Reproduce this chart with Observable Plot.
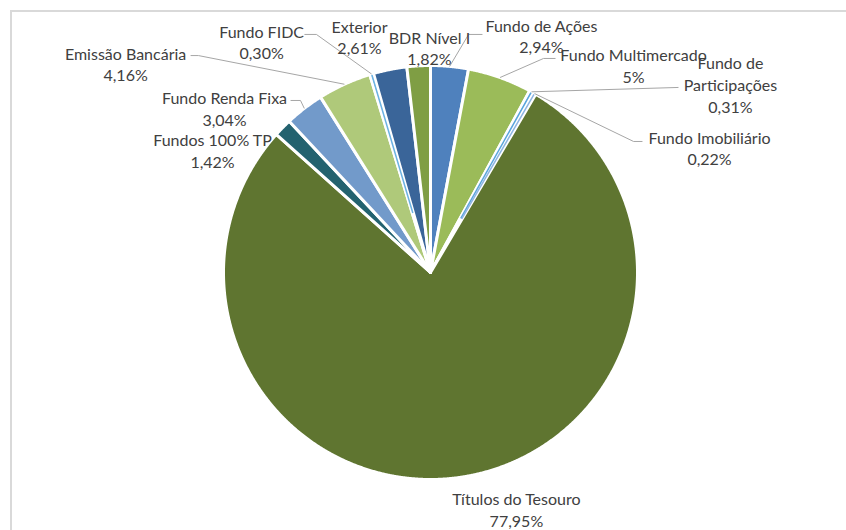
<!DOCTYPE html>
<html><head><meta charset="utf-8">
<script src="https://cdn.jsdelivr.net/npm/d3@7"></script>
<script src="https://cdn.jsdelivr.net/npm/@observablehq/plot@0.6"></script>
<style>
body{margin:0;background:#fff;}
#wrap{position:relative;width:846px;height:530px;overflow:hidden;background:#fff;}
#frame{position:absolute;left:10px;top:10px;width:900px;height:600px;border-left:2px solid #d9d9d9;border-top:2px solid #d9d9d9;}
#chart{position:absolute;left:0;top:0;}
</style></head><body>
<div id="wrap"><div id="frame"></div><div id="chart"></div></div>
<script>
// ---- data ----
const categories = ["Fundo de Ações", "Fundo Multimercado", "Fundo de Participações", "Fundo Imobiliário",
  "Títulos do Tesouro", "Fundos 100% TP", "Fundo Renda Fixa", "Emissão Bancária", "Fundo FIDC", "Exterior", "BDR Nível I"];
const values = [2.94, 5, 0.31, 0.22, 77.95, 1.42, 3.04, 4.16, 0.30, 2.61, 1.82];
const valueLabels = ["2,94%", "5%", "0,31%", "0,22%", "77,95%", "1,42%", "3,04%", "4,16%", "0,30%", "2,61%", "1,82%"];

// ---- styles ----
const colors = ["#4f81bd", "#9bbb59", "#5aa5dc", "#8db4e2", "#5f7530", "#23626f", "#729aca", "#afc97a", "#6cb2e2", "#3a6599", "#7f9e44"];

// ---- label layout (pie-radius units, centre = 0,0) ----
const labelPos = [
  [0.536, 1.145], [0.981, 1.002], [1.449, 0.911], [1.348, 0.604], [0.415, -1.143],
  [-1.053, 0.592], [-0.995, 0.794], [-1.473, 1.010], [-0.816, 1.116], [-0.343, 1.140], [-0.005, 1.087]
];
const leaderBends = [
  [[0.184, 1.150], [0.251, 1.150]],
  [[0.546, 1.034], [0.604, 1.034]],
  [[1.198, 0.894]],
  [[0.981, 0.633], [1.024, 0.633]],
  null, null,
  [[-0.628, 0.831], [-0.676, 0.831]],
  [[-1.121, 1.048], [-1.159, 1.048]],
  [[-0.551, 1.150], [-0.609, 1.150]],
  null, null
];

const arcs = d3.pie().sort(null).value(d => d)(values);

const slicePts = [];
arcs.forEach((p, i) => {
  slicePts.push({k: i, x: 0, y: 0});
  const n = Math.max(2, Math.ceil((p.endAngle - p.startAngle) / 0.004));
  for (let j = 0; j <= n; j++) {
    const a = p.startAngle + (p.endAngle - p.startAngle) * j / n;
    slicePts.push({k: i, x: Math.sin(a), y: Math.cos(a)});
  }
});

const sliverPts = [];
arcs.forEach((p, i) => {
  if (values[i] < 0.5) {
    const a = (p.startAngle + p.endAngle) / 2;
    for (const r of [0.3, 0.995]) sliverPts.push({k: i, x: r * Math.sin(a), y: r * Math.cos(a)});
  }
});

const leaderPts = [];
arcs.forEach((p, i) => {
  if (!leaderBends[i]) return;
  const a = (p.startAngle + p.endAngle) / 2;
  leaderPts.push({k: i, x: Math.sin(a), y: Math.cos(a)});
  for (const [x, y] of leaderBends[i]) leaderPts.push({k: i, x, y});
});

const labels = categories.map((c, i) => ({
  x: labelPos[i][0], y: labelPos[i][1],
  text: c.replace("de Participações", "de\nParticipações") + "\n" + valueLabels[i]
}));

const chart = Plot.plot({
  width: 846, height: 530,
  margin: 0,
  x: {domain: [-1, 1], range: [223, 637], axis: null},
  y: {domain: [-1, 1], range: [479, 65], axis: null},
  color: {type: "identity"},
  style: {fontFamily: "Lato, sans-serif", background: "transparent"},
  marks: [
    Plot.line(slicePts, {x: "x", y: "y", z: "k", fill: d => colors[d.k], stroke: "white", strokeWidth: 3, strokeLinejoin: "round", curve: "linear-closed"}),
    Plot.line(sliverPts, {x: "x", y: "y", z: "k", stroke: d => colors[d.k], strokeWidth: 1.5, strokeLinecap: "butt"}),
    Plot.line(leaderPts, {x: "x", y: "y", z: "k", stroke: "#a6a6a6", strokeWidth: 1, strokeLinecap: "butt"}),
    Plot.text(labels, {x: "x", y: "y", text: "text", fill: "#404040", fontSize: 16, lineHeight: 1.36})
  ]
});
document.getElementById("chart").appendChild(chart);
</script>
</body></html>
